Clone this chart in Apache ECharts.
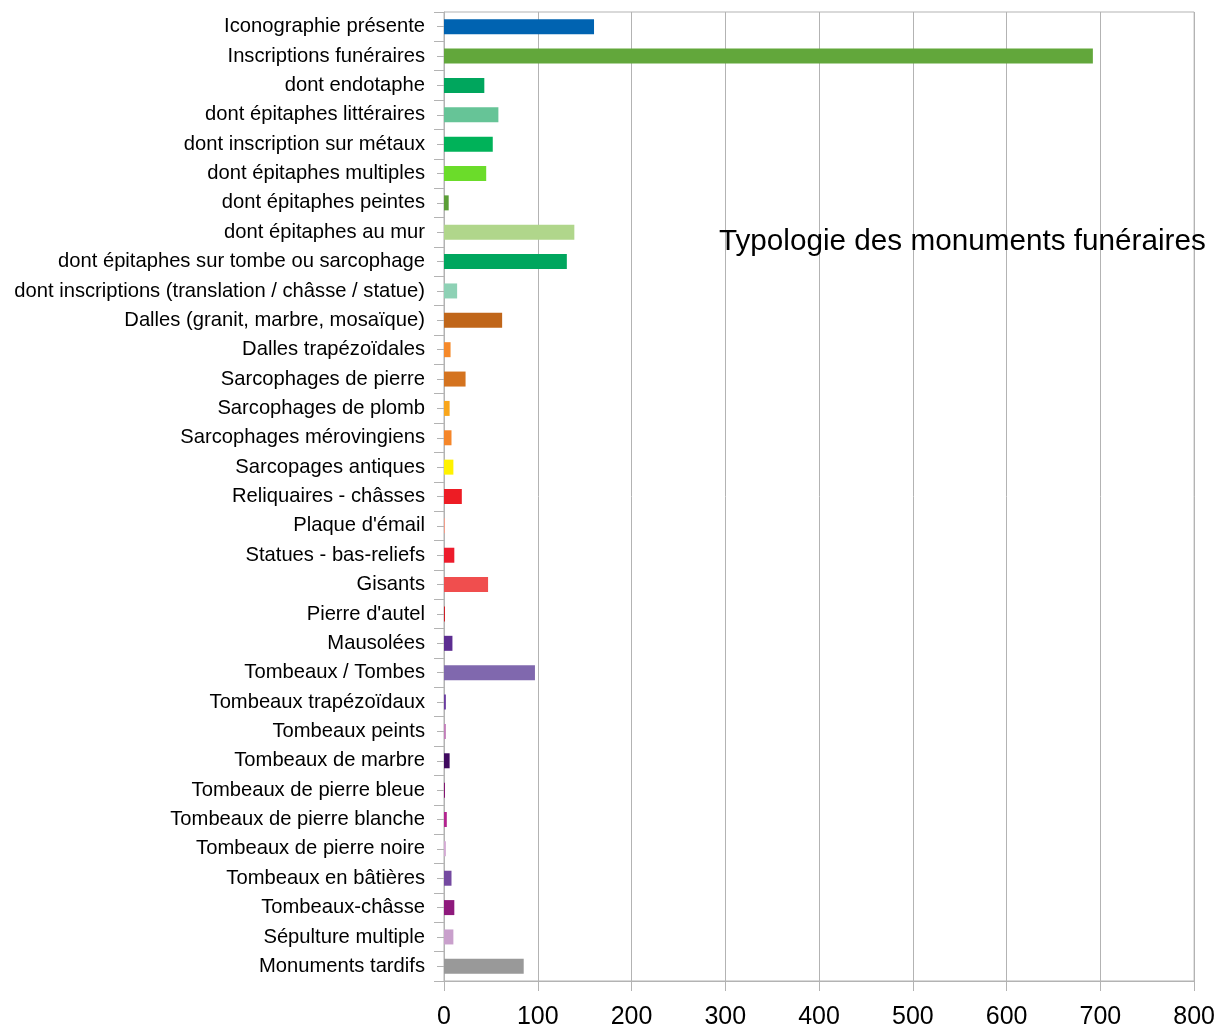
<!DOCTYPE html>
<html>
<head>
<meta charset="utf-8">
<script src="https://cdn.jsdelivr.net/npm/echarts@6/dist/echarts.min.js"></script>
<style>
  html, body { margin: 0; padding: 0; background: #fff; }
  #chart { width: 1218px; height: 1030px; }
</style>
</head>
<body>
<div id="chart"></div>
<script>
// catégories (de haut en bas)
const categories = [
  'Iconographie présente',
  'Inscriptions funéraires',
  'dont endotaphe',
  'dont épitaphes littéraires',
  'dont inscription sur métaux',
  'dont épitaphes multiples',
  'dont épitaphes peintes',
  'dont épitaphes au mur',
  'dont épitaphes sur tombe ou sarcophage',
  'dont inscriptions (translation / châsse / statue)',
  'Dalles (granit, marbre, mosaïque)',
  'Dalles trapézoïdales',
  'Sarcophages de pierre',
  'Sarcophages de plomb',
  'Sarcophages mérovingiens',
  'Sarcopages antiques',
  'Reliquaires - châsses',
  "Plaque d'émail",
  'Statues - bas-reliefs',
  'Gisants',
  "Pierre d'autel",
  'Mausolées',
  'Tombeaux / Tombes',
  'Tombeaux trapézoïdaux',
  'Tombeaux peints',
  'Tombeaux de marbre',
  'Tombeaux de pierre bleue',
  'Tombeaux de pierre blanche',
  'Tombeaux de pierre noire',
  'Tombeaux en bâtières',
  'Tombeaux-châsse',
  'Sépulture multiple',
  'Monuments tardifs'
]

const values = [160, 692, 43, 58, 52, 45, 5, 139, 131, 14, 62, 7, 23, 6, 8, 10, 19, 1, 11, 47, 1, 9, 97, 2, 2, 6, 1, 3, 2, 8, 11, 10, 85]

const colors = [
  '#0063b1', '#62a73b', '#00a65d', '#66c497', '#00b259', '#6bdc2a', '#5b9e37',
  '#b0d68b', '#00a65e', '#8ed1b5', '#c0661a', '#f5892a', '#d4731f', '#f9a61c',
  '#f5862a', '#fff200', '#ed1c24', '#f79c88', '#ed1c2c', '#f04e4e', '#d0161e',
  '#5c2d91', '#8068ae', '#6a3ca0', '#c27dba', '#3f0a5f', '#800a6e', '#b3248f',
  '#d3a9d3', '#7449a0', '#8e1a7c', '#c9a0cc', '#999999'
]

const xTicks = [0, 100, 200, 300, 400, 500, 600, 700, 800]

const myChart = echarts.init(document.getElementById('chart'))
const option = {
  backgroundColor: '#fff',
  animation: false,
  textStyle: { fontFamily: 'Liberation Sans' },
  title: {
    text: 'Typologie des monuments funéraires',
    left: 714,
    top: 222,
    textStyle: { fontSize: 29.7, fontWeight: 'normal', color: '#000', fontFamily: 'Liberation Sans' }
  },
  grid: {
    left: 444,
    right: 23,
    top: 12,
    bottom: 48,
    show: true,
    borderColor: '#b3b3b3',
    borderWidth: 1
  },
  xAxis: {
    type: 'value',
    min: xTicks[0],
    max: xTicks[xTicks.length - 1],
    interval: 100,
    axisLine: { show: true, lineStyle: { color: '#b3b3b3' } },
    axisTick: { show: true, length: 10, lineStyle: { color: '#b3b3b3' } },
    axisLabel: { color: '#000', fontSize: 25, margin: 24, fontFamily: 'Liberation Sans' },
    splitLine: { show: true, lineStyle: { color: '#b3b3b3' } }
  },
  yAxis: [{
    type: 'category',
    data: categories,
    inverse: true,
    axisLine: { show: true, lineStyle: { color: '#b3b3b3' } },
    axisTick: { show: true, length: 10, lineStyle: { color: '#b3b3b3' } },
    axisLabel: { color: '#000', fontSize: 20.2, margin: 19, padding: [4, 0, 0, 0], fontFamily: 'Liberation Sans' },
    splitLine: { show: false }
  }, {
    // petits traits au centre des catégories
    type: 'category',
    data: categories,
    inverse: true,
    position: 'left',
    axisLine: { show: false },
    axisTick: { show: true, alignWithLabel: true, length: 7, lineStyle: { color: '#b3b3b3' } },
    axisLabel: { show: false },
    splitLine: { show: false }
  }],
  series: [{
    type: 'bar',
    yAxisIndex: 0,
    barWidth: 15,
    data: values.map((v, i) => ({ value: v, itemStyle: { color: colors[i] } }))
  }]
}
myChart.setOption(option)
</script>
</body>
</html>
